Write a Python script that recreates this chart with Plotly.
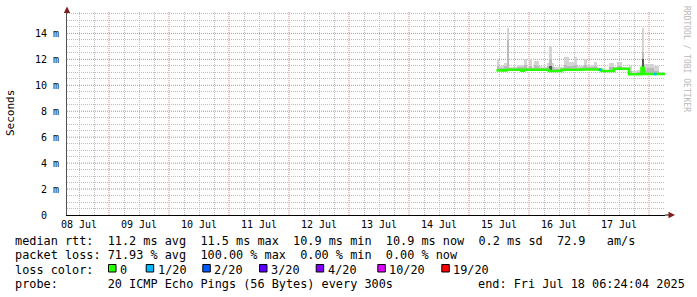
import plotly.graph_objects as go
import pandas as pd

W, H = 697, 297

# ---------------- data ----------------
x_start = "2025-07-08 07:12"
x_end = "2025-07-18 06:24"
first_bin = "2025-07-15 11:00"   # hourly bins from here

# median rtt per hour (ms)
median_ms = [11.15, 11.15, 11.15, 11.15, 11.2, 11.2, 11.2, 11.2, 11.2, 11.2,
             11.12, 11.2, 11.2, 11.2, 11.2, 11.2, 11.2, 11.2, 11.2, 11.2,
             11.2, 11.1, 11.1, 11.1, 11.1, 11.1, 11.2, 11.2, 11.2, 11.2,
             11.2, 11.2, 11.2, 11.2, 11.22, 11.22, 11.22, 11.22, 11.22, 11.22,
             11.22, 11.2, 11.1, 11.1, 11.1, 11.1, 11.1, 11.28, 11.28, 11.28,
             11.28, 11.28, 11.28, 10.85, 10.85, 10.85, 10.85, 10.85, 11.35, 10.87,
             10.87, 10.87, 10.87, 10.87, 10.87, 10.87, 10.87, 10.87]
# lost pings (of 20) per hour
loss_20 = [0, 0, 0, 0, 0, 0, 0, 0, 0, 0,
           0, 0, 0, 0, 0, 0, 0, 0, 0, 0,
           0, 0, 0, 0, 0, 0, 0, 0, 0, 0,
           0, 0, 0, 0, 0, 0, 0, 0, 0, 0,
           0, 1, 0, 0, 0, 0, 0, 0, 0, 0,
           0, 0, 0, 0, 0, 0, 0, 0, 0, 0,
           0, 0, 0, 1, 0, 0, 0, 0]
# smoke: highest ping per hour (ms)
smoke_max = [12.0, 11.5, 11.5, 11.7, 14.4, 11.4, 11.4, 11.4, 11.6, 11.6,
             11.6, 12.0, 11.4, 12.0, 11.4, 11.9, 11.9, 11.5, 11.4, 11.4,
             11.7, 13.0, 11.7, 11.4, 11.4, 11.4, 11.4, 12.2, 12.2, 11.8,
             11.8, 12.2, 11.5, 11.5, 11.5, 12.0, 11.6, 11.6, 11.6, 11.8,
             11.4, 11.3, 11.2, 11.2, 11.2, 11.7, 11.7, 11.4, 11.8, 11.8,
             11.4, 11.4, 11.3, 11.5, 11.1, 11.1, 11.2, 11.2, 14.4, 11.65,
             11.65, 11.65, 11.65, 11.5, 11.5, 11.0, 11.0, 10.95]
# smoke: inner band top per hour (ms)
smoke_mid = [11.5, 11.35, 11.35, 11.45, 13.5, 11.3, 11.3, 11.3, 11.4, 11.4,
             11.4, 11.6, 11.3, 11.5, 11.3, 11.6, 11.5, 11.35, 11.3, 11.3,
             11.45, 12.0, 11.4, 11.25, 11.25, 11.25, 11.3, 11.6, 11.5, 11.5,
             11.45, 11.6, 11.35, 11.35, 11.4, 11.55, 11.4, 11.4, 11.4, 11.5,
             11.3, 11.25, 11.15, 11.15, 11.15, 11.4, 11.4, 11.35, 11.5, 11.5,
             11.35, 11.35, 11.3, 11.1, 10.95, 10.95, 11.0, 11.0, 12.6, 11.2,
             11.3, 11.3, 11.3, 11.1, 11.1, 10.95, 10.95, 10.9]
# smoke: dense core top per hour (ms), only where visible
smoke_core = [None] * 21 + [11.5] + [None] * 36 + [12.0] + [None] * 9

loss_labels = ["0", "1/20", "2/20", "3/20", "4/20", "10/20", "19/20"]
loss_levels = [0, 1, 2, 3, 4, 10, 19]
loss_colors = ["#26ff00", "#00b8ff", "#0059ff", "#5e00ff", "#7e00ff", "#dd00ff", "#ff0000"]

y_tickvals = [0, 2, 4, 6, 8, 10, 12, 14]
y_ticktext = ["0\u00a0\u00a0", "2\u00a0m", "4\u00a0m", "6\u00a0m", "8\u00a0m",
              "10\u00a0m", "12\u00a0m", "14\u00a0m"]
major_days = ["2025-07-09", "2025-07-10", "2025-07-11", "2025-07-12", "2025-07-13",
              "2025-07-14", "2025-07-15", "2025-07-16", "2025-07-17", "2025-07-18"]

rtt_stats = dict(avg=11.2, max=11.5, min=10.9, now=10.9, sd=0.2, amps=72.9)
loss_stats = dict(avg=71.93, max=100.00, min=0.00, now=0.00)
probe_text = "20 ICMP Echo Pings (56 Bytes) every 300s"
end_text = "end: Fri Jul 18 06:24:04 2025"

# ---------------- helpers ----------------
def px(x):
    return x / W

def py(y):
    return 1 - y / H

Y_TOP = 15.65
HOUR = pd.Timedelta(hours=1)
t0 = pd.Timestamp(first_bin)
n = len(median_ms)
edges = [t0 + i * HOUR for i in range(n + 1)]
centers = [t0 + (i + 0.5) * HOUR for i in range(n)]
base = [m - 0.05 for m in median_ms]

# minor grid positions (every 6 h / 0.5 ms) that avoid the major red lines
day0 = pd.Timestamp("2025-07-08")
x_minor = [day0 + pd.Timedelta(hours=6 * k) for k in range(0, 44) if k % 4 != 0]
y_minor = [k * 0.5 for k in range(0, 32) if k % 4 != 0]

fig = go.Figure()

def smoke_layer(tops, color):
    xs, ys, bs = [], [], []
    for c, t, b in zip(centers, tops, base):
        if t is None:
            continue
        xs.append(c)
        ys.append(t - b)
        bs.append(b)
    fig.add_trace(go.Bar(x=xs, y=ys, base=bs, width=3600000,
                         marker=dict(color=color, line=dict(width=0)),
                         hoverinfo="skip", showlegend=False))

smoke_layer(smoke_max, "#d4d4d4")
smoke_layer(smoke_mid, "#bababa")
smoke_layer(smoke_core, "#555555")

# median line coloured by loss
fig.add_trace(go.Scatter(x=edges, y=median_ms + [median_ms[-1]], mode="lines",
                         line=dict(color=loss_colors[0], width=2.6, shape="hv"),
                         hoverinfo="skip", showlegend=False))
for lvl, col in zip(loss_levels[1:], loss_colors[1:]):
    xs, ys = [], []
    for i, l in enumerate(loss_20):
        if l == lvl:
            xs += [edges[i], edges[i + 1], None]
            ys += [median_ms[i], median_ms[i], None]
    if xs:
        fig.add_trace(go.Scatter(x=xs, y=ys, mode="lines",
                                 line=dict(color=col, width=2.6),
                                 hoverinfo="skip", showlegend=False))

MONO = "DejaVu Sans Mono"
major_grid = "#e08282"
minor_grid = "#bdbdbd"
DASH = "1px,1px"
x_dom = [px(67), px(665)]
y_dom = [py(215), py(12)]

fig.update_layout(
    width=W, height=H, autosize=False,
    margin=dict(l=0, r=0, t=0, b=0, autoexpand=False),
    paper_bgcolor="white", plot_bgcolor="white",
    barmode="overlay", bargap=0,
    showlegend=False,
    xaxis=dict(
        type="date", range=[x_start, x_end], domain=x_dom,
        showline=True, linecolor="#000000", linewidth=1,
        ticks="", dtick=86400000, tick0="2025-07-08",
        ticklabelmode="period", tickformat="%d %b",
        tickfont=dict(family=MONO, size=10, color="#000"),
        showgrid=False,
        zeroline=False, fixedrange=True, automargin=False, layer="above traces",
    ),
    yaxis=dict(
        range=[0, Y_TOP], domain=y_dom,
        tickvals=y_tickvals, ticktext=y_ticktext,
        tickfont=dict(family=MONO, size=10, color="#000"),
        ticks="", ticklabelstandoff=5,
        showline=True, linecolor="#555555", linewidth=1,
        showgrid=False,
        zeroline=False, fixedrange=True, automargin=False, layer="above traces",
    ),
    # helper axes carrying only the fine grey grid
    xaxis2=dict(
        type="date", range=[x_start, x_end], domain=x_dom, overlaying="x",
        anchor="y", side="bottom", tickmode="array", tickvals=x_minor,
        showticklabels=False, ticks="", showline=False,
        showgrid=True, gridcolor=minor_grid, griddash=DASH, gridwidth=1,
        zeroline=False, fixedrange=True, automargin=False,
    ),
    yaxis2=dict(
        range=[0, Y_TOP], domain=y_dom, overlaying="y", anchor="x",
        tickmode="array", tickvals=y_minor,
        showticklabels=False, ticks="", showline=False,
        showgrid=True, gridcolor=minor_grid, griddash=DASH, gridwidth=1,
        zeroline=False, fixedrange=True, automargin=False,
    ),
)
# invisible anchor trace so the helper axes are drawn
fig.add_trace(go.Scatter(x=[x_start], y=[0], xaxis="x2", yaxis="y2", mode="markers",
                         marker=dict(opacity=0), hoverinfo="skip", showlegend=False))

shapes = []
# major (red dotted) grid at each midnight and every 2 ms
for d in major_days:
    shapes.append(dict(type="line", xref="x", yref="y", x0=d, x1=d, y0=0, y1=Y_TOP,
                       layer="below", line=dict(color=major_grid, width=1, dash=DASH)))
for v in y_tickvals[1:]:
    shapes.append(dict(type="line", xref="x", yref="y", x0=x_start, x1=x_end, y0=v, y1=v,
                       layer="below", line=dict(color=major_grid, width=1, dash=DASH)))

annotations = []

def text(x, y, s, size=11.85, color="#000", xanchor="left", angle=0, family=MONO):
    annotations.append(dict(x=px(x), y=py(y), xref="paper", yref="paper",
                            text=s.replace(" ", "\u00a0"), showarrow=False,
                            xanchor=xanchor, yanchor="middle", textangle=angle,
                            borderpad=0, borderwidth=0,
                            font=dict(family=family, size=size, color=color)))

text(11, 113, "Seconds", size=11, xanchor="center", angle=-90)
text(686, 59, "RRDTOOL / TOBI OETIKER", size=8, color="#b8b8b8", xanchor="center", angle=90)

line1 = ("median rtt:  {avg:.1f} ms avg  {max:.1f} ms max  {min:.1f} ms min  "
         "{now:.1f} ms now  {sd:.1f} ms sd  {amps:.1f}   am/s").format(**rtt_stats)
line2 = ("packet loss: {avg:.2f} % avg  {max:.2f} % max  {min:.2f} % min  "
         "{now:.2f} % now").format(**loss_stats)
text(15, 241, line1)
text(15, 255.3, line2)
text(15, 269.5, "loss color:")
text(15, 283.6, "probe:       " + probe_text)
text(478, 283.6, end_text)

label_x = [120, 157.7, 214.3, 271, 327.7, 389.3, 453.3]
for lx, lab, col in zip(label_x, loss_labels, loss_colors):
    text(lx, 269.5, lab)
    shapes.append(dict(type="rect", xref="paper", yref="paper",
                       x0=px(lx - 11.5), x1=px(lx - 4), y0=py(272), y1=py(264.5),
                       fillcolor=col, line=dict(color="#000", width=1)))

arrow = "#801f1f"
shapes.append(dict(type="path", xref="paper", yref="paper",
                   path=f"M {px(67)},{py(6.5)} L {px(63.8)},{py(13)} L {px(70.2)},{py(13)} Z",
                   fillcolor=arrow, line=dict(width=0)))
shapes.append(dict(type="line", xref="paper", yref="paper",
                   x0=px(665), x1=px(669), y0=py(215), y1=py(215),
                   line=dict(color="#000", width=1)))
shapes.append(dict(type="path", xref="paper", yref="paper",
                   path=f"M {px(675)},{py(215)} L {px(668.5)},{py(211.8)} L {px(668.5)},{py(218.2)} Z",
                   fillcolor=arrow, line=dict(width=0)))

fig.update_layout(annotations=annotations, shapes=shapes)
fig.write_html("out.html", config={"responsive": False, "displayModeBar": False})
